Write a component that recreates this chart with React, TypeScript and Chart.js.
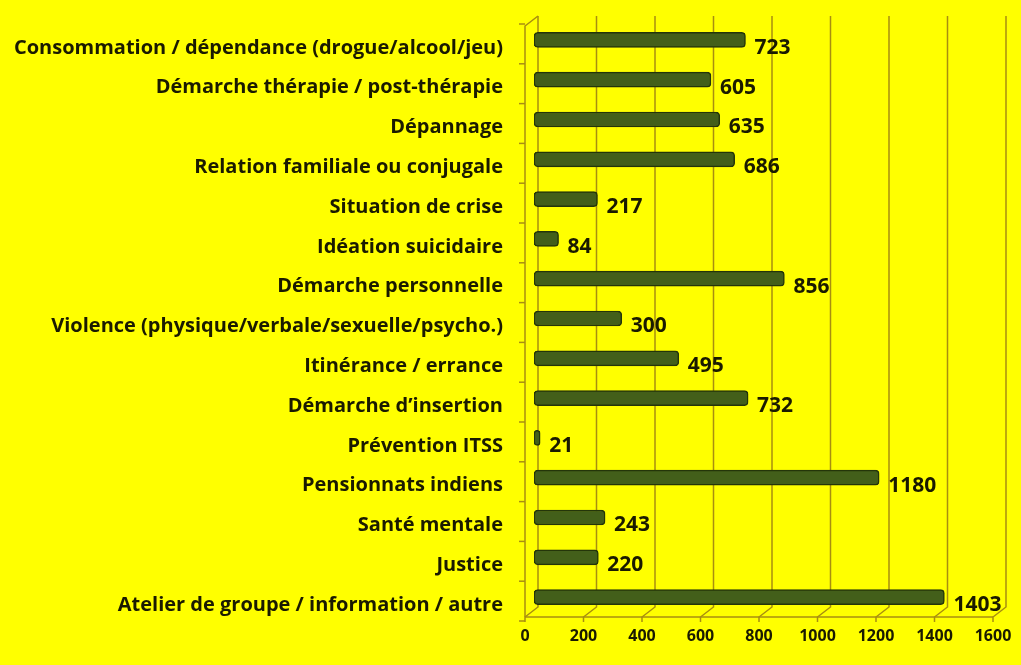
import React, { useEffect, useRef } from "react";
import { Chart, registerables } from "chart.js";

Chart.register(...registerables);

const categories = [
  "Consommation / dépendance (drogue/alcool/jeu)",
  "Démarche thérapie / post-thérapie",
  "Dépannage",
  "Relation familiale ou conjugale",
  "Situation de crise",
  "Idéation suicidaire",
  "Démarche personnelle",
  "Violence (physique/verbale/sexuelle/psycho.)",
  "Itinérance / errance",
  "Démarche d’insertion",
  "Prévention ITSS",
  "Pensionnats indiens",
  "Santé mentale",
  "Justice",
  "Atelier de groupe / information / autre",
];
const values = [723, 605, 635, 686, 217, 84, 856, 300, 495, 732, 21, 1180, 243, 220, 1403];
const xTicks = [0, 200, 400, 600, 800, 1000, 1200, 1400, 1600];

const FONT = "'Open Sans', Lato, sans-serif";
const GRID = "#A88E10";
const TEXT = "#1a1a00";

const frame3d = {
  id: "frame3d",
  beforeDatasetsDraw(chart: any) {
    const { ctx, chartArea, scales } = chart;
    const x = scales.x;
    const y = scales.y;
    const back = 4;
    const front = -9;
    const dy = 10;
    ctx.save();
    ctx.strokeStyle = GRID;
    ctx.lineWidth = 1.5;
    for (const v of xTicks) {
      const px = x.getPixelForValue(v);
      ctx.beginPath();
      ctx.moveTo(px + back, chartArea.top - 4);
      ctx.lineTo(px + back, chartArea.bottom - dy);
      ctx.lineTo(px + front, chartArea.bottom);
      ctx.lineTo(px + front, chartArea.bottom + 5);
      ctx.stroke();
    }
    const x0 = x.getPixelForValue(0) + front;
    ctx.beginPath();
    ctx.moveTo(x0, chartArea.bottom);
    ctx.lineTo(x.getPixelForValue(1600) + front, chartArea.bottom);
    ctx.stroke();
    ctx.beginPath();
    ctx.moveTo(x0, chartArea.bottom);
    ctx.lineTo(x0, chartArea.top + 6);
    ctx.lineTo(x0 + back - front, chartArea.top - 4);
    ctx.stroke();
    for (let i = 0; i <= categories.length; i++) {
      const py = y.getPixelForValue(i - 0.5) + 4;
      ctx.beginPath();
      ctx.moveTo(x0 - 6, py);
      ctx.lineTo(x0, py);
      ctx.stroke();
    }
    // x tick labels
    ctx.fillStyle = TEXT;
    ctx.font = `bold 16px ${FONT}`;
    ctx.textAlign = "center";
    ctx.textBaseline = "middle";
    for (const v of xTicks) {
      ctx.fillText(String(v), x.getPixelForValue(v) + front, chartArea.bottom + 19);
    }
    // category labels
    ctx.font = `bold 20px ${FONT}`;
    ctx.textAlign = "right";
    categories.forEach((c, i) => {
      ctx.fillText(c, 503, y.getPixelForValue(i) + 8);
    });
    ctx.restore();
  },
  afterDatasetsDraw(chart: any) {
    const { ctx } = chart;
    const meta = chart.getDatasetMeta(0);
    ctx.save();
    ctx.fillStyle = TEXT;
    ctx.font = `bold 21px ${FONT}`;
    ctx.textBaseline = "middle";
    ctx.textAlign = "left";
    meta.data.forEach((bar: any, i: number) => {
      ctx.fillText(String(values[i]), bar.x + 9, bar.y + 8);
    });
    ctx.restore();
  },
};

export default function App() {
  const ref = useRef<HTMLCanvasElement>(null);
  useEffect(() => {
    const chart = new Chart(ref.current!, {
      type: "bar",
      data: {
        labels: categories,
        datasets: [
          {
            data: values,
            backgroundColor: "#435F1A",
            borderColor: "#243509",
            borderWidth: 1.5,
            borderRadius: 4,
            borderSkipped: false,
            barThickness: 15,
          },
        ],
      },
      options: {
        indexAxis: "y",
        responsive: false,
        animation: false,
        layout: { padding: { top: 20, right: 19, bottom: 48, left: 0 } },
        plugins: { legend: { display: false }, tooltip: { enabled: false } },
        scales: {
          x: {
            min: 0,
            max: 1600,
            afterFit(s: any) { s.height = 0; },
            ticks: { display: false, stepSize: 200 },
            grid: { display: false },
            border: { display: false },
          },
          y: {
            afterFit(s: any) { s.width = 534; },
            ticks: { display: false },
            grid: { display: false },
            border: { display: false },
          },
        },
      },
      plugins: [frame3d],
    });
    return () => chart.destroy();
  }, []);
  return (
    <div style={{ position: "fixed", left: 0, top: 0, width: 1021, height: 665, background: "#FFFF00" }}>
      <canvas ref={ref} width={1021} height={665} />
    </div>
  );
}
